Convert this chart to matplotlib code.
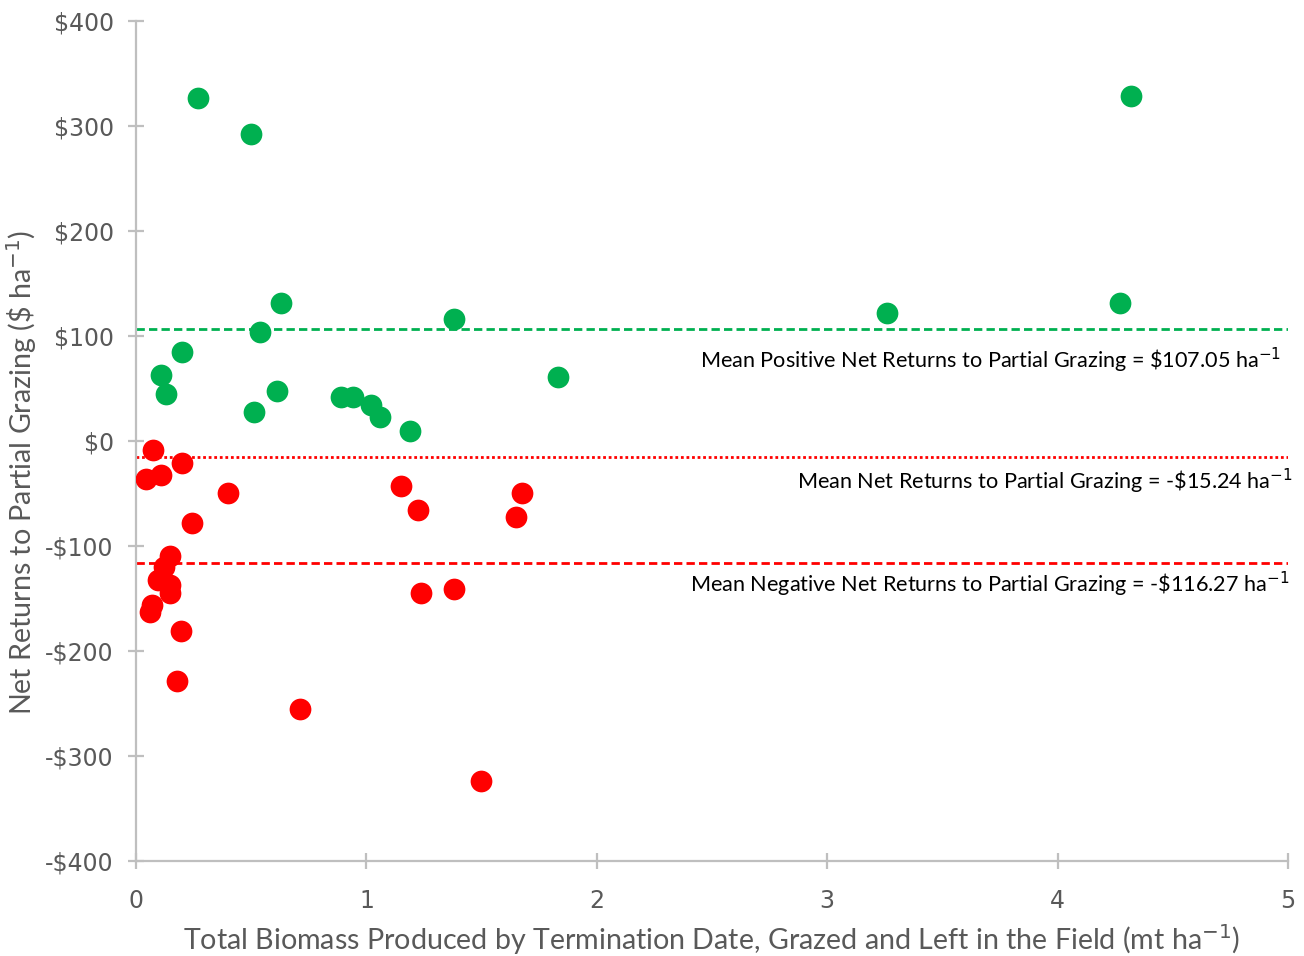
import matplotlib.pyplot as plt

# positive net returns (green)
green_x = [0.27, 0.50, 4.32, 0.63, 0.54, 1.38, 3.26, 4.27, 0.20, 0.11,
           0.13, 0.61, 0.51, 1.83, 0.89, 0.94, 1.02, 1.06, 1.19]
green_y = [327, 292, 329, 131, 104, 116, 122, 131, 85, 63,
           45, 48, 28, 61, 42, 42, 34, 23, 10]

# negative net returns (red)
red_x = [0.075, 0.198, 0.042, 0.107, 0.399, 0.243, 0.148, 0.123, 0.097, 0.148,
         0.148, 0.068, 0.061, 0.194, 0.177, 0.712, 1.497, 1.150, 1.224, 1.237,
         1.380, 1.649, 1.675]
red_y = [-9, -21, -36, -32, -50, -78, -110, -120, -132, -137,
         -145, -156, -163, -181, -229, -255, -324, -43, -66, -145,
         -141, -72, -50]

mean_pos = 107.05
mean_all = -15.24
mean_neg = -116.27

GREEN = '#00B050'
RED = '#FF0000'
GRAY = '#BFBFBF'
TXT = '#595959'

fig = plt.figure(figsize=(13.04, 9.56), dpi=100)
ax = fig.add_axes([0.1043, 0.0994, 0.8834, 0.8786])

ax.scatter(green_x, green_y, s=245, color=GREEN, zorder=3, linewidths=0)
ax.scatter(red_x, red_y, s=245, color=RED, zorder=3, linewidths=0)

ax.axhline(mean_pos, color=GREEN, ls=(0, (3, 1.5)), lw=2)
ax.axhline(mean_all, color=RED, ls=(0, (1, 1)), lw=2)
ax.axhline(mean_neg, color=RED, ls=(0, (3, 1.5)), lw=2)

afont = dict(family=['Lato', 'DejaVu Sans'], fontsize=15.6, color='black', ha='right', va='center')
ax.text(4.97, 77, r'Mean Positive Net Returns to Partial Grazing = \$107.05 ha$^{-1}$', **afont)
ax.text(5.02, -38, r'Mean Net Returns to Partial Grazing = -\$15.24 ha$^{-1}$', **afont)
ax.text(5.005, -137, r'Mean Negative Net Returns to Partial Grazing = -\$116.27 ha$^{-1}$', **afont)

ax.set_xlim(0, 5)
ax.set_ylim(-400, 400)
ax.set_xticks([0, 1, 2, 3, 4, 5])
ax.set_yticks(range(-400, 401, 100))
ax.set_yticklabels([('-$' if v < 0 else '$') + str(abs(v)) for v in range(-400, 401, 100)])

for s in ['top', 'right']:
    ax.spines[s].set_visible(False)
for s in ['left', 'bottom']:
    ax.spines[s].set_color(GRAY)
    ax.spines[s].set_linewidth(1.6)
ax.tick_params(axis='both', direction='inout', length=12, width=1.6, color=GRAY,
               labelcolor=TXT, labelsize=17)
ax.tick_params(axis='y', pad=10)
ax.tick_params(axis='x', pad=14)

lfont = dict(family=['Lato', 'DejaVu Sans'], fontsize=20.6, color=TXT)
ax.set_xlabel(r'Total Biomass Produced by Termination Date, Grazed and Left in the Field (mt ha$^{-1}$)',
              va='center', **lfont)
ax.set_ylabel(r'Net Returns to Partial Grazing (\$ ha$^{-1}$)', va='center', **lfont)
ax.xaxis.set_label_coords(0.4996, -0.094)
ax.yaxis.set_label_coords(-0.099, 0.463)

fig.savefig('out.png', dpi=100)
